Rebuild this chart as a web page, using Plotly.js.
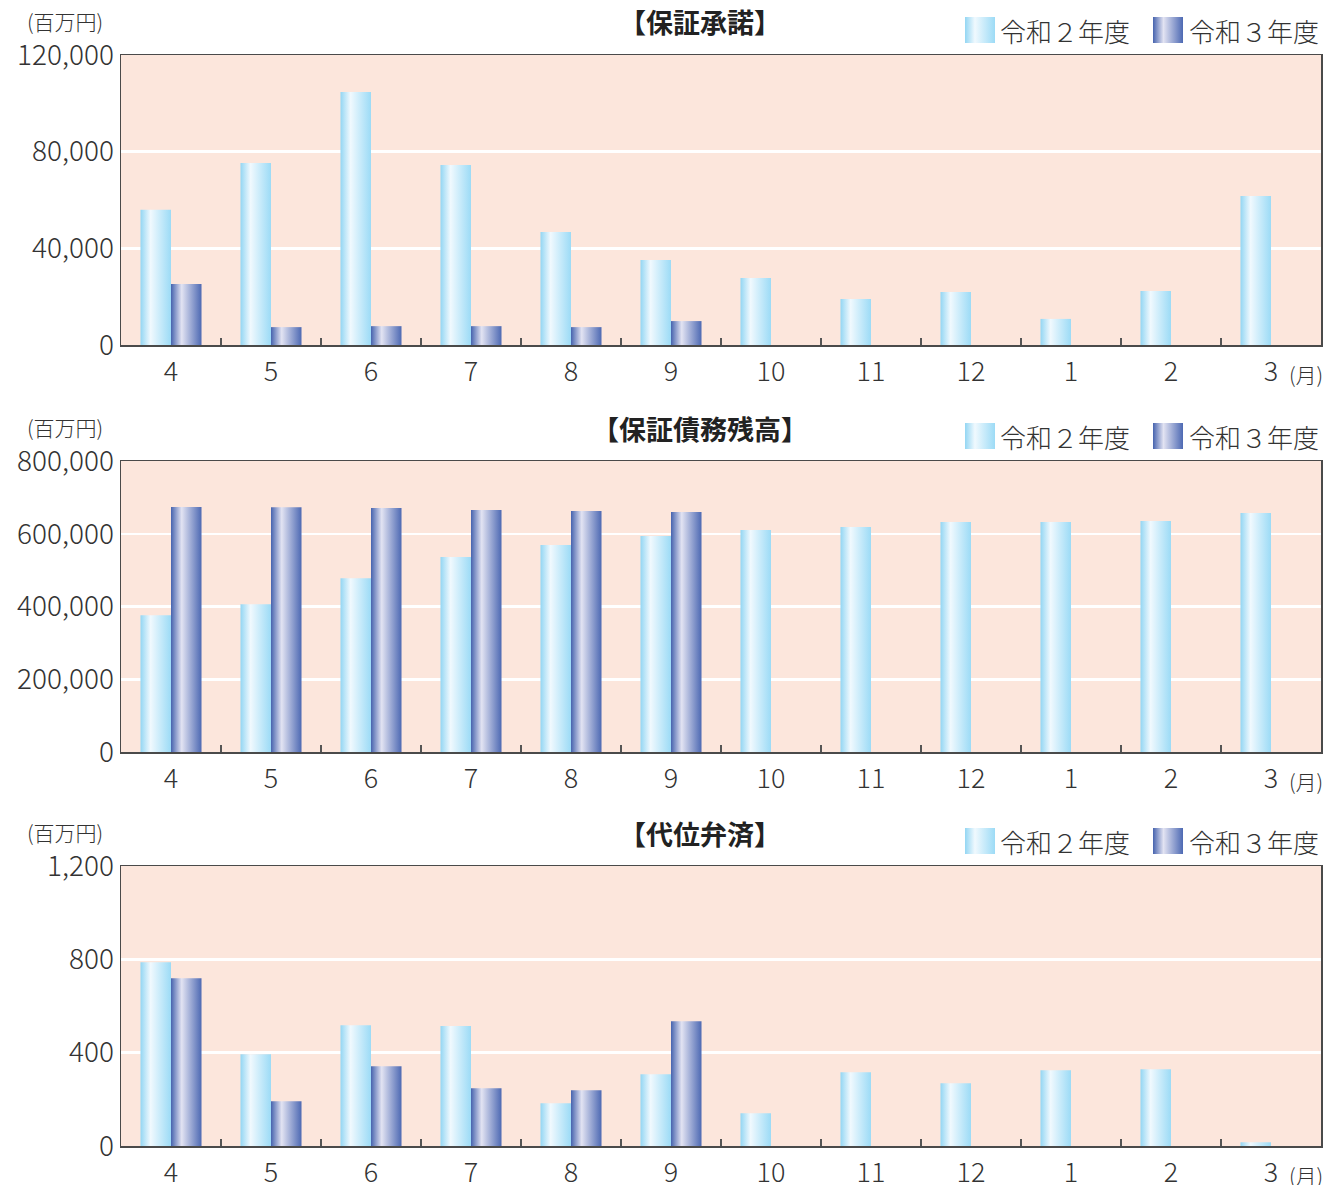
<!DOCTYPE html>
<html>
<head>
<meta charset="utf-8">
<script src="https://cdn.plot.ly/plotly-3.0.1.min.js"></script>
<style>
html,body{margin:0;padding:0;background:#fff;}
#chart{width:1338px;height:1185px;}
</style>
</head>
<body>
<svg width="0" height="0" style="position:absolute">
  <defs>
    <linearGradient id="gradR2" x1="0" y1="0" x2="1" y2="0">
      <stop offset="0" stop-color="#93d6f3"/>
      <stop offset="0.33" stop-color="#f0f9fe"/>
      <stop offset="1" stop-color="#9cdbf6"/>
    </linearGradient>
    <linearGradient id="gradR3" x1="0" y1="0" x2="1" y2="0">
      <stop offset="0" stop-color="#4663ae"/>
      <stop offset="0.35" stop-color="#e2e3f2"/>
      <stop offset="1" stop-color="#4d69b3"/>
    </linearGradient>
  </defs>
</svg>
<div id="chart"></div>
<script>
// ---- data ----
const months = ['4','5','6','7','8','9','10','11','12','1','2','3'];
const seriesNames = ['令和２年度', '令和３年度'];
const chartTitles = ['【保証承諾】', '【保証債務残高】', '【代位弁済】'];
const unitLabel = '(百万円)';
const monthUnit = '(月)';

const guaranteeR2 = [56000, 75300, 104700, 74500, 46800, 35200, 27700, 19000, 21900, 10800, 22300, 61700];
const guaranteeR3 = [25200, 7400, 7800, 7800, 7400, 9900, null, null, null, null, null, null];

const balanceR2 = [376000, 406500, 478000, 535800, 568800, 593600, 610100, 618400, 632100, 632000, 634900, 656900];
const balanceR3 = [673400, 673000, 670700, 665200, 662400, 659600, null, null, null, null, null, null];

const subrogationR2 = [788, 393, 518, 514, 183, 308, 140, 316, 269, 325, 329, 16];
const subrogationR3 = [719, 192, 342, 248, 239, 535, null, null, null, null, null, null];

const yTicks1 = [0, 40000, 80000, 120000];
const yTicks2 = [0, 200000, 400000, 600000, 800000];
const yTicks3 = [0, 400, 800, 1200];

// ---- styling ----
const W = 1338, H = 1185;
const px = x => x / W;
const py = y => 1 - y / H;
const FONT = '"Noto Sans CJK JP", "Noto Sans", sans-serif';
const TXT = '#333333';
const C2 = 'rgb(158, 218, 244)';
const C3 = 'rgb(80, 104, 178)';

const panels = [
  {top: 55, bottom: 345, r2: guaranteeR2, r3: guaranteeR3, ticks: yTicks1, max: 120000},
  {top: 461, bottom: 752, r2: balanceR2, r3: balanceR3, ticks: yTicks2, max: 800000},
  {top: 866, bottom: 1146, r2: subrogationR2, r3: subrogationR3, ticks: yTicks3, max: 1200}
];

const traces = [];
const layout = {
  width: W, height: H,
  margin: {l: 0, r: 0, t: 0, b: 0},
  paper_bgcolor: '#ffffff',
  plot_bgcolor: 'rgb(252, 230, 220)',
  barmode: 'group',
  bargap: 0.39,
  bargroupgap: 0,
  showlegend: false,
  font: {family: FONT, color: TXT},
  annotations: [],
  shapes: []
};

panels.forEach((p, i) => {
  const n = i === 0 ? '' : String(i + 1);
  traces.push({type: 'bar', x: months, y: p.r2, name: seriesNames[0], xaxis: 'x' + n, yaxis: 'y' + n,
    marker: {color: C2, line: {width: 0}}, hoverinfo: 'skip'});
  traces.push({type: 'bar', x: months, y: p.r3, name: seriesNames[1], xaxis: 'x' + n, yaxis: 'y' + n,
    marker: {color: C3, line: {width: 0}}, hoverinfo: 'skip'});

  layout['xaxis' + n] = {
    domain: [px(121), px(1321)],
    anchor: 'y' + n,
    type: 'category',
    showline: true, linecolor: '#4a4a4a', linewidth: 1.5, mirror: true,
    ticks: 'inside', tickson: 'boundaries', ticklen: 7, tickwidth: 1.5, tickcolor: '#555',
    showgrid: false, zeroline: false,
    tickfont: {size: 27, color: TXT, family: FONT, weight: 300},
    ticklabelstandoff: 2,
    fixedrange: true
  };
  layout['yaxis' + n] = {
    domain: [py(p.bottom), py(p.top)],
    anchor: 'x' + n,
    range: [0, p.max],
    tickvals: p.ticks,
    tickformat: ',d',
    showline: true, linecolor: '#4a4a4a', linewidth: 1.5, mirror: true,
    ticks: '',
    showgrid: true, gridcolor: '#ffffff', gridwidth: 2.5,
    zeroline: false,
    tickfont: {size: 28, color: TXT, family: FONT, weight: 300},
    ticklabelstandoff: 0,
    fixedrange: true
  };

  const titleY = p.top - 33;
  // chart title
  layout.annotations.push({xref: 'paper', yref: 'paper', x: px(700), y: py(titleY), text: '<b>' + chartTitles[i] + '</b>',
    showarrow: false, xanchor: 'center', yanchor: 'middle', font: {size: 27, color: '#222', family: FONT}});
  // unit label
  layout.annotations.push({xref: 'paper', yref: 'paper', x: px(25), y: py(p.top - 34), text: unitLabel,
    showarrow: false, xanchor: 'left', yanchor: 'middle', font: {size: 21, color: TXT, family: FONT, weight: 300}});
  // month unit
  layout.annotations.push({xref: 'paper', yref: 'paper', x: px(1287), y: py(p.bottom + 29), text: monthUnit,
    showarrow: false, xanchor: 'left', yanchor: 'middle', font: {size: 21, color: TXT, family: FONT, weight: 300}});

  // legend (swatches + labels)
  const ly0 = p.top - 38, ly1 = p.top - 12;
  layout.shapes.push({type: 'rect', xref: 'paper', yref: 'paper', x0: px(965), x1: px(995), y0: py(ly1), y1: py(ly0),
    fillcolor: C2, line: {width: 0}, layer: 'above'});
  layout.shapes.push({type: 'rect', xref: 'paper', yref: 'paper', x0: px(1153), x1: px(1183), y0: py(ly1), y1: py(ly0),
    fillcolor: C3, line: {width: 0}, layer: 'above'});
  layout.annotations.push({xref: 'paper', yref: 'paper', x: px(998), y: py((ly0 + ly1) / 2), text: seriesNames[0],
    showarrow: false, xanchor: 'left', yanchor: 'middle', font: {size: 26, color: TXT, family: FONT, weight: 300}});
  layout.annotations.push({xref: 'paper', yref: 'paper', x: px(1187), y: py((ly0 + ly1) / 2), text: seriesNames[1],
    showarrow: false, xanchor: 'left', yanchor: 'middle', font: {size: 26, color: TXT, family: FONT, weight: 300}});
});

function applyGradients() {
  const gd = document.getElementById('chart');
  gd.querySelectorAll('path').forEach(el => {
    const f = el.style.fill;
    if (f === C2) el.style.fill = 'url(#gradR2)';
    else if (f === C3) el.style.fill = 'url(#gradR3)';
  });
}

Plotly.newPlot('chart', traces, layout, {staticPlot: true, displayModeBar: false}).then(applyGradients);
</script>
</body>
</html>
